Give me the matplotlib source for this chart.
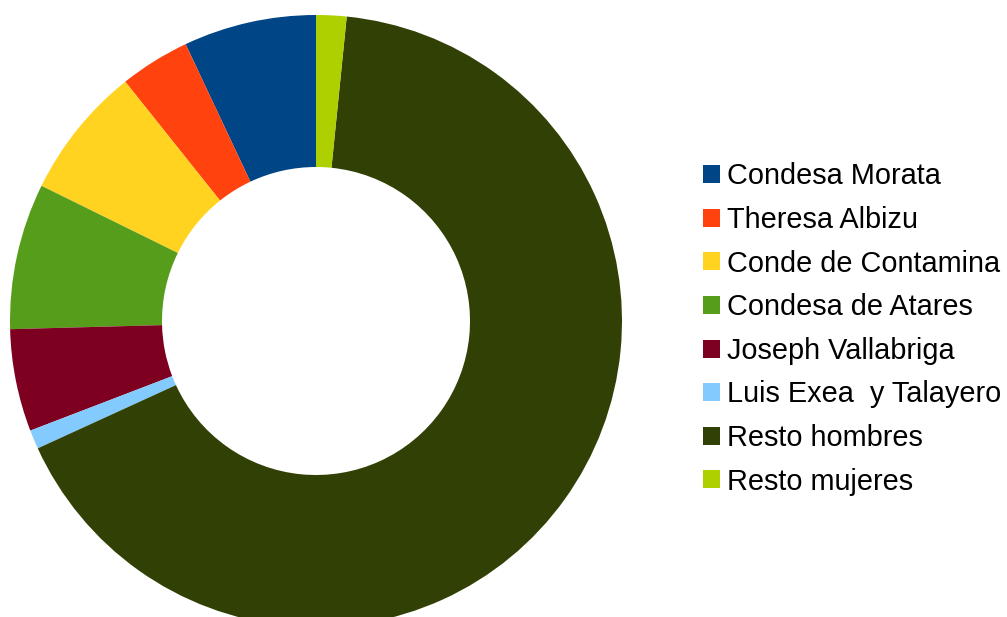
import matplotlib
matplotlib.use("Agg")
import matplotlib.pyplot as plt
from matplotlib.patches import Patch

labels = ["Condesa Morata", "Theresa Albizu", "Conde de Contamina",
          "Condesa de Atares", "Joseph Vallabriga", "Luis Exea  y Talayero",
          "Resto hombres", "Resto mujeres"]
values = [7.0, 3.7, 7.0, 7.7, 5.4, 1.0, 66.5, 1.6]
colors = ["#004586", "#ff420e", "#ffd320", "#579d1c", "#7e0021",
          "#83caff", "#314004", "#aecf00"]

plt.rcParams['font.family'] = ['Liberation Sans', 'DejaVu Sans']

W, H = 1007, 617
fig = plt.figure(figsize=(W / 100, H / 100), dpi=100)
cx, cy, R = 316, 321, 306
ax = fig.add_axes([(cx - R) / W, (H - cy - R) / H, 2 * R / W, 2 * R / H])
ax.pie(values, colors=colors, startangle=90, counterclock=True, radius=1,
       wedgeprops=dict(width=1 - 154 / 306, linewidth=0))
ax.set_xlim(-1, 1)
ax.set_ylim(-1, 1)
ax.set_aspect('equal')
ax.axis('off')

handles = [Patch(facecolor=c, edgecolor='none') for c in colors]
fig.legend(handles, labels, loc='center left',
           bbox_to_anchor=(703 / W, 1 - 329 / H),
           frameon=False, fontsize=20.8, borderpad=0, borderaxespad=0,
           handlelength=0.59, handleheight=0.59, handletextpad=0.25,
           labelspacing=0.54)

fig.savefig("out.png", dpi=100)
